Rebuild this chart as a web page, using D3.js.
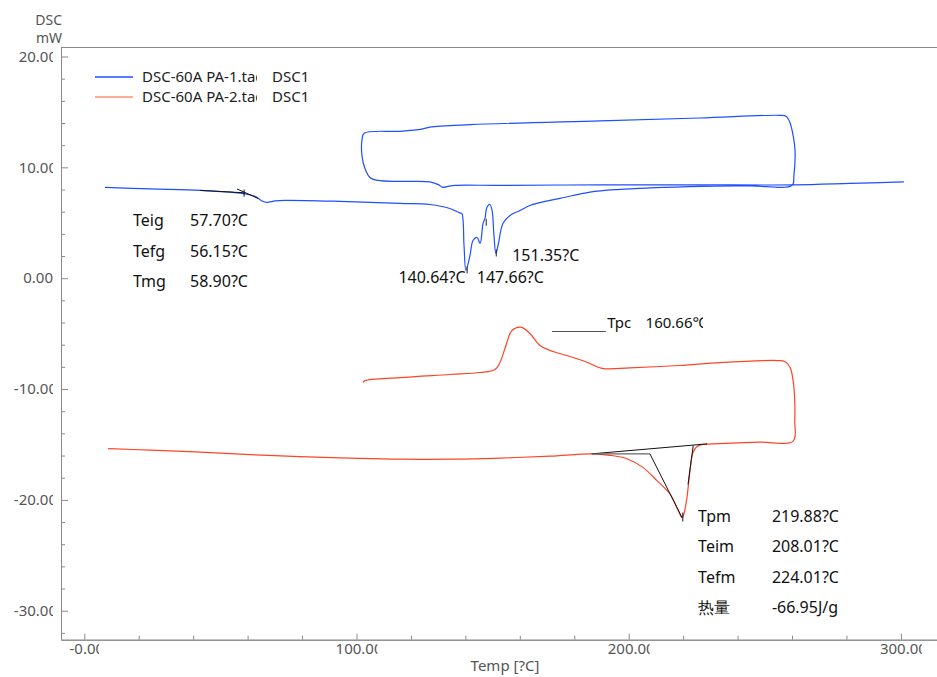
<!DOCTYPE html>
<html>
<head>
<meta charset="utf-8">
<script src="https://cdn.jsdelivr.net/npm/d3@7"></script>
<style>
  body { margin: 0; background: #fff; }
  text { font-family: "Noto Sans", "Open Sans", sans-serif; }
</style>
</head>
<body>
<div id="mydiv"></div>
<script>
// legend
var seriesFiles = ["DSC-60A PA-1.tad", "DSC-60A PA-2.tad"];
var seriesTag = ["DSC1", "DSC1"];

// PA-1 : heating -> hold -> cooling -> heating  (temp C / DSC mW)
var pa1Temp = [7.6, 24.2, 42.6, 57.2, 62.7, 65.3, 67.1, 70.1, 73.7, 93.9, 116, 127, 134.3, 138, 138.7, 139.5, 140.2, 141.7, 142.8, 144.3,
  145.4, 146.5, 147.2, 147.9, 149.0, 149.8, 150.5, 151.2, 152, 153.8, 156.4, 160.1, 163.7, 169.3, 174.8, 185.8, 196.8, 207.8, 226.2, 244.6, 260,
  260.7, 261.1, 260.4, 259.2, 257.8, 255.6,
  226.2, 189.5, 141.7, 127, 124, 116, 102.8,
  102, 102, 103.1, 104.9, 107.9, 116, 127, 129.9, 131.8, 133.6, 136.2, 152.7, 189.5, 226.2, 260.7, 281.3, 301.1];
var pa1Dsc = [8.19, 8.05, 7.92, 7.67, 7.38, 6.97, 6.84, 6.97, 7.02, 6.93, 6.75, 6.65, 6.29, 5.89, 5.84, 2.95, 0.70, 2.05, 3.40, 3.67,
  3.13, 4.94, 5.39, 6.38, 6.65, 6.11, 3.86, 2.23, 2.95, 4.94, 5.66, 6.11, 6.56, 6.93, 7.20, 7.77, 8.01, 8.14, 8.28, 8.33, 8.37,
  9.27, 11.53, 12.88, 14.06, 14.60, 14.69,
  14.45, 14.20, 13.85, 13.63, 13.45, 13.25, 13.07,
  12.43, 11.08, 9.90, 9.09, 8.82, 8.73, 8.69, 8.46, 8.19, 8.28, 8.37, 8.37, 8.42, 8.42, 8.42, 8.55, 8.69];

// PA-2 : heating -> hold -> cooling
var pa2Temp = [8.75, 24.2, 42.6, 60.9, 79.2, 97.6, 116, 134.3, 152.7, 171.1, 186.4, 193.1, 199.3, 205.2, 210.4, 215.2, 217.7, 219.6, 220.3,
  221.4, 222.5, 223.6, 225, 227.3, 233.5, 248.2, 260.4,
  261, 261, 260.4, 259.3, 257.4, 254.8,
  233.5, 218.8, 200.4, 190.2, 184.6, 177.3, 171.1, 167.4, 163.7, 160.4, 157.1, 154.9, 152.7, 150.9, 145.4, 134.3, 116, 103.1, 102.4];
var pa2Dsc = [-15.38, -15.51, -15.69, -15.92, -16.1, -16.23, -16.33, -16.33, -16.23, -16.05, -15.85, -15.98, -16.29, -17.07, -18.27, -19.47, -20.68, -21.61, -21.25,
  -19.8, -17.36, -15.74, -15.2, -15.0, -14.93, -14.79, -14.7,
  -12.85, -11.04, -9.24, -8.06, -7.52, -7.43,
  -7.61, -7.88, -8.09, -8.13, -7.58, -6.98, -6.52, -6.07, -4.99, -4.42, -4.72, -6.07, -7.61, -8.24, -8.51, -8.69, -8.97, -9.24, -9.42];

// axis ticks
var xMajor = [0, 100, 200, 300];
var xTickText = ["-0.00", "100.00", "200.00", "300.00"];
var yMajor = [20, 10, 0, -10, -20, -30];
var yTickText = ["20.00", "10.00", "0.00", "-10.00", "-20.00", "-30.00"];

// analysis results
var glassNames = ["Teig", "Tefg", "Tmg"];
var glassValues = ["57.70?C", "56.15?C", "58.90?C"];
var peakTemps = [140.64, 147.66, 151.35];
var peakDsc = [0.70, 5.0, 2.23];
var peakText = ["140.64?C", "147.66?C", "151.35?C"];
var meltNames = ["Tpm", "Teim", "Tefm", "热量"];
var meltValues = ["219.88?C", "208.01?C", "224.01?C", "-66.95J/g"];
var crystName = "Tpc";
var crystValue = "160.66℃";

var W = 937, H = 677;
// plot frame (note: "top" is taken by window.top, so prefix everything)
var frameL = 61, frameR = 937, frameT = 47, frameB = 639.7;

// scales are fitted to the tick positions, then stretched to the frame
var x = d3.scaleLinear().domain([0, 300]).range([84.3, 900.9]);
var y = d3.scaleLinear().domain([-30, 20]).range([610.7, 56.5]);
x.domain([x.invert(frameL), x.invert(frameR)]).range([frameL, frameR]);
y.domain([y.invert(frameB), y.invert(frameT)]).range([frameB, frameT]);

var svg = d3.select("#mydiv").append("svg")
  .attr("width", W)
  .attr("height", H)
  .style("background-color", "white");

var defs = svg.append("defs");
var clipCount = 0;
function clipText(node, x0, y0, w, h) {
  var id = "clip" + (clipCount++);
  defs.append("clipPath").attr("id", id)
    .append("rect").attr("x", x0).attr("y", y0).attr("width", w).attr("height", h);
  d3.select(node).attr("clip-path", "url(#" + id + ")");
}

// frame top line
svg.append("line")
  .attr("x1", frameL).attr("x2", frameR)
  .attr("y1", frameT + 0.5).attr("y2", frameT + 0.5)
  .attr("stroke", "#8a8a8a");

// x axis
var minorX = d3.range(0, 301, 20).filter(function(d) { return xMajor.indexOf(d) < 0; });
svg.append("g")
  .attr("transform", "translate(0," + frameB + ")")
  .call(d3.axisBottom(x).tickValues(minorX).tickSize(-4).tickSizeOuter(0).tickFormat(""));
var gx = svg.append("g")
  .attr("transform", "translate(0," + frameB + ")")
  .call(d3.axisBottom(x).tickValues(xMajor).tickSize(-6).tickSizeOuter(0).tickPadding(4)
    .tickFormat(function(d, i) { return xTickText[i]; }));

// y axis
var minorY = d3.range(-32, 21, 2).filter(function(d) { return yMajor.indexOf(d) < 0; });
svg.append("g")
  .attr("transform", "translate(" + frameL + ",0)")
  .call(d3.axisLeft(y).tickValues(minorY).tickSize(-4).tickSizeOuter(0).tickFormat(""));
var gy = svg.append("g")
  .attr("transform", "translate(" + frameL + ",0)")
  .call(d3.axisLeft(y).tickValues(yMajor).tickSize(-7).tickSizeOuter(0).tickPadding(8)
    .tickFormat(function(d, i) { return yTickText[i]; }));

svg.selectAll(".domain").attr("stroke", "#8a8a8a");
svg.selectAll(".tick line").attr("stroke", "#8a8a8a");
svg.selectAll(".tick text")
  .attr("fill", "#555")
  .style("font-size", "15px")
  .style("font-family", "'Noto Sans', sans-serif");

// long tick labels get cut off on the right, like the original software does
gx.selectAll(".tick text").attr("x", 2).each(function(d, i) {
  if (xTickText[i].length >= 5) {
    var bb = this.getBBox();
    clipText(this, bb.x - 2, bb.y - 2, bb.width - 3, bb.height + 4);
  }
});
gy.selectAll(".tick text").each(function(d, i) {
  if (yTickText[i].length >= 5) {
    d3.select(this).attr("x", -4);
    var bb = this.getBBox();
    clipText(this, bb.x - 2, bb.y - 2, bb.width - 2, bb.height + 4);
  }
});

// axis titles
svg.append("text").attr("x", 62).attr("y", 25).attr("text-anchor", "end")
  .style("font-size", "14px").attr("fill", "#555").text("DSC");
svg.append("text").attr("x", 62).attr("y", 43).attr("text-anchor", "end")
  .style("font-size", "14px").attr("fill", "#555").text("mW");
svg.append("text").attr("x", 505).attr("y", 671).attr("text-anchor", "middle")
  .style("font-size", "15px").attr("fill", "#555").text("Temp  [?C]");

// curves
var line = d3.line()
  .x(function(d) { return x(d[0]); })
  .y(function(d) { return y(d[1]); })
  .curve(d3.curveCatmullRom.alpha(0.5));

var pa1 = pa1Temp.map(function(t, i) { return [t, pa1Dsc[i]]; });
var pa2 = pa2Temp.map(function(t, i) { return [t, pa2Dsc[i]]; });

svg.append("path").datum(pa2)
  .attr("d", line).attr("fill", "none")
  .attr("stroke", "#ff4326").attr("stroke-width", 1.2);
svg.append("path").datum(pa1)
  .attr("d", line).attr("fill", "none")
  .attr("stroke", "#1f4fff").attr("stroke-width", 1.2);

// analysis construction lines
var seg = d3.line()
  .x(function(d) { return x(d[0]); })
  .y(function(d) { return y(d[1]); });
var blackSegs = [
  [[42.6, 7.92], [59.0, 7.70]],
  [[56.1, 8.05], [63.8, 7.20]],
  [[58.7, 8.0], [58.7, 7.35]],
  [[186.4, -15.85], [228.8, -14.95]],
  [[207.8, -15.85], [219.6, -21.61]],
  [[223.7, -15.1], [221.8, -18.6]],
  [[219.88, -21.15], [219.88, -21.95]]
];
blackSegs.forEach(function(s) {
  svg.append("path").attr("d", seg(s)).attr("fill", "none")
    .attr("stroke", "#111").attr("stroke-width", 1);
});
svg.append("path").attr("d", seg([[186.4, -15.85], [207.8, -15.85]]))
  .attr("fill", "none").attr("stroke", "#666").attr("stroke-width", 1.2);

// peak markers
peakTemps.forEach(function(t, i) {
  svg.append("line")
    .attr("x1", x(t)).attr("x2", x(t))
    .attr("y1", y(peakDsc[i]) - 4).attr("y2", y(peakDsc[i]) + 3)
    .attr("stroke", "#222");
});

// legend
var colorsLegend = ["#1f4fff", "#ff8f7a"];
seriesFiles.forEach(function(f, i) {
  var ly = 77 + i * 20;
  svg.append("line").attr("x1", 95).attr("x2", 133).attr("y1", ly).attr("y2", ly)
    .attr("stroke", colorsLegend[i]).attr("stroke-width", 1.3);
  var t = svg.append("text").attr("x", 142).attr("y", ly + 5)
    .style("font-size", "15px").attr("fill", "#222").text(f);
  // file name box is narrower than the name
  clipText(t.node(), 140, ly - 12, 117, 20);
  svg.append("text").attr("x", 272).attr("y", ly + 5)
    .style("font-size", "15px").attr("fill", "#222").text(seriesTag[i]);
});

// glass transition results
glassNames.forEach(function(n, i) {
  var by = y(4.67) + i * 30.5;
  svg.append("text").attr("x", 133).attr("y", by).style("font-size", "16px").attr("fill", "#111").text(n);
  svg.append("text").attr("x", 190).attr("y", by).style("font-size", "16px").attr("fill", "#111").text(glassValues[i]);
});

// melting peak labels
var peakLabelPos = [[115.4, -0.45], [144.2, -0.45], [157.2, 1.53]];
peakText.forEach(function(s, i) {
  svg.append("text").attr("x", x(peakLabelPos[i][0])).attr("y", y(peakLabelPos[i][1]))
    .style("font-size", "16px").attr("fill", "#111").text(s);
});

// crystallization peak
svg.append("path").attr("d", seg([[171.8, -4.81], [191.6, -4.81]]))
  .attr("fill", "none").attr("stroke", "#555").attr("stroke-width", 1.2);
svg.append("text").attr("x", x(192.1)).attr("y", y(-4.48))
  .style("font-size", "15px").attr("fill", "#111").text(crystName);
var cv = svg.append("text").attr("x", x(206.2)).attr("y", y(-4.48))
  .style("font-size", "15px").attr("fill", "#111").text(crystValue);
clipText(cv.node(), x(206.2) - 2, y(-4.48) - 18, x(227.3) - x(206.2) + 2, 24);

// melting results
meltNames.forEach(function(n, i) {
  var by = y(-21.98) + i * 30.5;
  svg.append("text").attr("x", x(225.5)).attr("y", by).style("font-size", "16px").attr("fill", "#111").text(n);
  svg.append("text").attr("x", x(252.6)).attr("y", by).style("font-size", "16px").attr("fill", "#111").text(meltValues[i]);
});
</script>
</body>
</html>
